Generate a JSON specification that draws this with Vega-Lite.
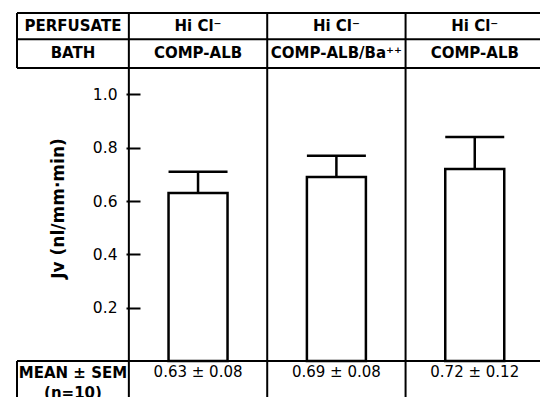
{
  "$schema": "https://vega.github.io/schema/vega-lite/v6.json",
  "width": 533,
  "height": 384,
  "autosize": {"type": "none"},
  "padding": {"left": 12, "top": 13, "right": 0, "bottom": 0},
  "background": "white",
  "config": {"view": {"stroke": null}},
  "datasets": {
    "bars": [
      {"col": 0.5, "mean": 0.63, "upper": 0.71},
      {"col": 1.5, "mean": 0.69, "upper": 0.77},
      {"col": 2.5, "mean": 0.72, "upper": 0.84}
    ],
    "hlines": [
      {"y": 1.305, "x1": -0.8085, "x2": 2.9716},
      {"y": 1.207, "x1": -0.8085, "x2": 2.9716},
      {"y": 1.099, "x1": -0.8085, "x2": 2.9716},
      {"y": 0.0, "x1": -0.8085, "x2": 2.9716}
    ],
    "vlines": [
      {"x": -0.8085, "y1": 1.305, "y2": 1.099},
      {"x": -0.8085, "y1": 0.0, "y2": -0.135},
      {"x": 0, "y1": 1.305, "y2": -0.135},
      {"x": 1, "y1": 1.305, "y2": -0.135},
      {"x": 2, "y1": 1.305, "y2": -0.135}
    ],
    "boldText": [
      {"x": -0.404, "y": 1.258, "label": "PERFUSATE"},
      {"x": 0.5, "y": 1.258, "label": "Hi Cl⁻"},
      {"x": 1.5, "y": 1.258, "label": "Hi Cl⁻"},
      {"x": 2.5, "y": 1.258, "label": "Hi Cl⁻"},
      {"x": -0.404, "y": 1.155, "label": "BATH"},
      {"x": 0.5, "y": 1.155, "label": "COMP-ALB"},
      {"x": 1.5, "y": 1.155, "label": "COMP-ALB/Ba⁺⁺"},
      {"x": 2.5, "y": 1.155, "label": "COMP-ALB"},
      {"x": -0.404, "y": -0.046, "label": "MEAN ± SEM"},
      {"x": -0.404, "y": -0.12, "label": "(n=10)"}
    ],
    "valText": [
      {"x": 0.5, "y": -0.041, "label": "0.63 ± 0.08"},
      {"x": 1.5, "y": -0.041, "label": "0.69 ± 0.08"},
      {"x": 2.5, "y": -0.041, "label": "0.72 ± 0.12"}
    ]
  },
  "encoding": {
    "x": {"type": "quantitative", "scale": {"domain": [-0.8085, 2.9716], "nice": false, "zero": false}, "axis": null},
    "y": {"type": "quantitative", "scale": {"domain": [-0.135, 1.305], "nice": false, "zero": false}}
  },
  "layer": [
    {
      "data": {"name": "hlines"},
      "mark": {"type": "rule", "stroke": "black", "strokeWidth": 2},
      "encoding": {
        "x": {"field": "x1", "type": "quantitative"},
        "x2": {"field": "x2"},
        "y": {"field": "y", "type": "quantitative", "axis": {
          "orient": "left",
          "offset": -114,
          "values": [0.2, 0.4, 0.6, 0.8, 1.0],
          "format": ".1f",
          "domain": false,
          "grid": false,
          "tickSize": -14,
          "tickWidth": 2,
          "tickColor": "black",
          "labelPadding": 23,
          "labelFont": "DejaVu Sans",
          "labelFontSize": 15.5,
          "labelColor": "black",
          "title": "Jv  (nl/mm·min)",
          "titleFont": "DejaVu Sans",
          "titleFontSize": 17,
          "titleFontWeight": "bold",
          "titleColor": "black",
          "titleAngle": 270,
          "titleAlign": "center",
          "titleBaseline": "middle",
          "titleX": -68,
          "titleY": 195
        }}
      }
    },
    {
      "data": {"name": "vlines"},
      "mark": {"type": "rule", "stroke": "black", "strokeWidth": 2},
      "encoding": {
        "x": {"field": "x", "type": "quantitative"},
        "y": {"field": "y1", "type": "quantitative"},
        "y2": {"field": "y2"}
      }
    },
    {
      "data": {"name": "bars"},
      "mark": {"type": "bar", "fill": "white", "stroke": "black", "strokeWidth": 2.5, "width": 59},
      "encoding": {
        "x": {"field": "col", "type": "quantitative"},
        "y": {"field": "mean", "type": "quantitative"},
        "y2": {"datum": 0}
      }
    },
    {
      "data": {"name": "bars"},
      "mark": {"type": "rule", "stroke": "black", "strokeWidth": 2.5},
      "encoding": {
        "x": {"field": "col", "type": "quantitative"},
        "y": {"field": "mean", "type": "quantitative"},
        "y2": {"field": "upper"}
      }
    },
    {
      "data": {"name": "bars"},
      "mark": {"type": "tick", "orient": "horizontal", "color": "black", "size": 59, "thickness": 2.5, "opacity": 1},
      "encoding": {
        "x": {"field": "col", "type": "quantitative"},
        "y": {"field": "upper", "type": "quantitative"}
      }
    },
    {
      "data": {"name": "boldText"},
      "mark": {"type": "text", "font": "DejaVu Sans", "fontSize": 15, "fontWeight": "bold", "color": "black", "align": "center", "baseline": "middle"},
      "encoding": {
        "x": {"field": "x", "type": "quantitative"},
        "y": {"field": "y", "type": "quantitative"},
        "text": {"field": "label"}
      }
    },
    {
      "data": {"name": "valText"},
      "mark": {"type": "text", "font": "DejaVu Sans", "fontSize": 15, "color": "black", "align": "center", "baseline": "middle"},
      "encoding": {
        "x": {"field": "x", "type": "quantitative"},
        "y": {"field": "y", "type": "quantitative"},
        "text": {"field": "label"}
      }
    }
  ]
}
